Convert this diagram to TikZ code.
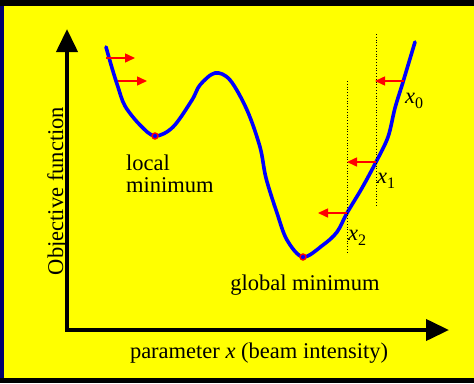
\documentclass[tikz,border=0pt]{standalone}
\usepackage{fontspec}
\setmainfont{Liberation Serif}
\usetikzlibrary{arrows.meta}
\definecolor{bgyellow}{RGB}{255,255,0}
\definecolor{navy}{RGB}{0,0,110}
\begin{document}
\begin{tikzpicture}[x=1pt,y=-1pt,
  axis/.style={line width=4pt,-{Triangle[length=23pt,width=21pt]}},
  curve/.style={line width=3.6pt,blue,line cap=round},
  redarrow/.style={red,line width=1.5pt,-{Triangle[length=10pt,width=9pt]}},
  guide/.style={black,line width=0.8pt,dotted},
  minring/.style={circle,draw=red,line width=1.4pt,minimum size=6pt,inner sep=0pt,fill=blue},
  lbl/.style={inner sep=0pt,font=\fontsize{22.5}{23}\selectfont},
  sublbl/.style={inner sep=0pt,font=\fontsize{22.5}{23}\selectfont}
]
\useasboundingbox (0,0) rectangle (474,383);
\fill[black] (0,0) rectangle (474,383);
\fill[navy] (0,6) rectangle (4,378);
\fill[bgyellow] (4,6) rectangle (474,378);
% axes
\coordinate (origin) at (67,330);
\coordinate (ytip) at (67,29);
\coordinate (xtip) at (449,330);
\draw[axis] (origin) -- (ytip);
\draw[axis] ([xshift=-2pt]origin) -- (xtip);
% curve
\draw[curve] plot[smooth,tension=0.55] coordinates {
 (106,47) (112,68) (118,87) (125,106) (140,125) (155,136)
 (173,127) (192,100) (200,85) (215,73) (230,80) (247,110)
 (260,147) (266,178) (277,213) (287,240) (303,257)
 (323,245) (337,232) (347,213) (362,188) (376,162)
 (388,137) (395,108) (403,82) (415,42)};
% minima
\node[minring] (locmin) at (155,136) {};
\node[minring] (globmin) at (303,257) {};
% dotted guides
\coordinate (g1top) at (376,34);
\coordinate (g1bot) at (376,207);
\coordinate (g2top) at (347,81);
\coordinate (g2bot) at (347,253);
\draw[guide] (g1top) -- (g1bot);
\draw[guide] (g2top) -- (g2bot);
% arrows
\coordinate (a1s) at (106,58); \coordinate (a1e) at (135,58);
\coordinate (a2s) at (118,81); \coordinate (a2e) at (147,81);
\coordinate (b0s) at (404,81); \coordinate (b0e) at (375,81);
\coordinate (b1s) at (376,162); \coordinate (b1e) at (347,162);
\coordinate (b2s) at (347,213); \coordinate (b2e) at (318,213);
\draw[redarrow] (a1s) -- (a1e);
\draw[redarrow] (a2s) -- (a2e);
\draw[redarrow] (b0s) -- (b0e);
\draw[redarrow] (b1s) -- (b1e);
\draw[redarrow] (b2s) -- (b2e);
% labels
\node[lbl,anchor=base west] (x0) at (405,103) {\textit{x}\raisebox{-0.25em}{\fontsize{16}{16}\selectfont 0}};
\node[lbl,anchor=base west] (x1) at (377,183) {\textit{x}\raisebox{-0.25em}{\fontsize{16}{16}\selectfont 1}};
\node[lbl,anchor=base west] (x2) at (348,240) {\textit{x}\raisebox{-0.25em}{\fontsize{16}{16}\selectfont 2}};
\node[lbl,anchor=base west] (local1) at (126,170) {local};
\node[lbl,anchor=base west] (local2) at (126,192) {minimum};
\node[lbl,anchor=base] (global) at (305,290) {global minimum};
\node[lbl,anchor=base] (xlab) at (259,358) {parameter \textit{x} (beam intensity)};
\node[lbl,anchor=base,rotate=90] (ylab) at (63,191) {Objective function};
\end{tikzpicture}
\end{document}
